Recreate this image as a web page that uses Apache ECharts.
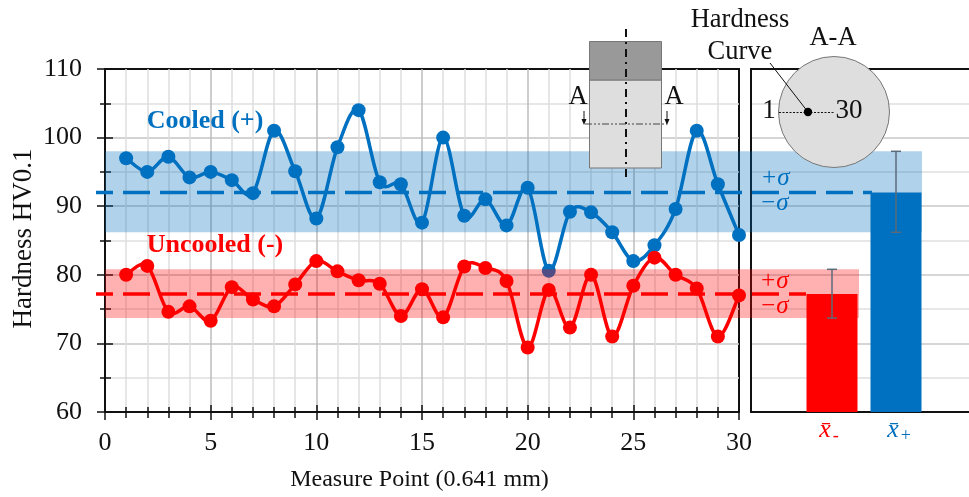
<!DOCTYPE html>
<html><head><meta charset="utf-8">
<style>html,body{margin:0;padding:0;background:#fff}#c{width:969px;height:497px}</style>
<script src="https://cdn.jsdelivr.net/npm/echarts@6/dist/echarts.min.js"></script>
</head><body><div id="c"></div>
<script>
const measurePoints=[1,2,3,4,5,6,7,8,9,10,11,12,13,14,15,16,17,18,19,20,21,22,23,24,25,26,27,28,29,30];
const cooled=[97,95,97.2,94.2,95,93.8,91.9,101,95.1,88.2,98.6,104,93.5,93.2,87.6,100,88.6,91,87.2,92.7,80.6,89.2,89.1,86.2,82,84.3,89.6,101,93.2,85.8];
const uncooled=[80,81.3,74.6,75.4,73.3,78.2,76.4,75.4,78.6,82,80.5,79.2,78.7,74,77.9,73.8,81.2,81,79.1,69.4,77.8,72.3,80,71,78.4,82.5,80,78,71,77];
const cooledMean=92, cooledHigh=98, cooledLow=86.2;
const uncooledMean=77.2, uncooledHigh=80.8, uncooledLow=73.7;
const BLUE='#0070C0', RED='#FF0000';
const FONT='"Liberation Serif","Times New Roman",serif';
const pair=a=>a.map((v,i)=>[measurePoints[i],v]);

const G={left:105,top:69,width:634,height:343,outerBoundsMode:'none'};
const R={left:751,top:69,width:218,height:343,outerBoundsMode:'none'};
const O={left:96,top:69,width:873,height:343,outerBoundsMode:'none'};
const unit=634/30;
const ovMin=-9/unit, ovMax=(969-105)/unit;
const pxToX=p=>(p-105)/unit;

const bandItem=(params,api)=>{
  const a=api.coord([api.value(0),api.value(3)]), b=api.coord([api.value(1),api.value(2)]);
  return {type:'rect',shape:{x:a[0],y:a[1],width:b[0]-a[0],height:b[1]-a[1]},style:{fill:api.value(4)===0?'rgba(0,112,192,0.31)':'rgba(255,0,0,0.31)'}};
};
const errItem=(params,api)=>{
  const t=api.coord([api.value(0),api.value(1)]), b=api.coord([api.value(0),api.value(2)]);
  const s={stroke:'#5b6b78',lineWidth:1.5,fill:null};
  return {type:'group',children:[
    {type:'line',shape:{x1:t[0],y1:t[1],x2:b[0],y2:b[1]},style:s},
    {type:'line',shape:{x1:t[0]-5,y1:t[1],x2:t[0]+5,y2:t[1]},style:s},
    {type:'line',shape:{x1:b[0]-5,y1:b[1],x2:b[0]+5,y2:b[1]},style:s}]};
};
// Excel-style smoothed line: each segment is a cubic through the data points, placed with the axis scale
const splineItem=(values,color)=>(params,api)=>{
  const i=params.dataIndex;
  if(i>=values.length-1) return null;
  const P=k=>{const j=Math.max(0,Math.min(values.length-1,k));return api.coord([measurePoints[j],values[j]]);};
  const p0=P(i-1),p1=P(i),p2=P(i+1),p3=P(i+2);
  const t=1/6;
  return {type:'bezierCurve',shape:{x1:p1[0],y1:p1[1],x2:p2[0],y2:p2[1],
    cpx1:p1[0]+(p2[0]-p0[0])*t,cpy1:p1[1]+(p2[1]-p0[1])*t,
    cpx2:p2[0]-(p3[0]-p1[0])*t,cpy2:p2[1]-(p3[1]-p1[1])*t},
    style:{stroke:color,lineWidth:3.5,fill:null}};
};
const txt=(x,y,text,o={})=>({type:'text',x,y,z:20,style:Object.assign({text,font:`${o.size||26.5}px ${FONT}`,fill:'#111',textAlign:'center',textVerticalAlign:'middle'},o.style||{})});
const ln=(x1,y1,x2,y2,o={})=>({type:'line',z:o.z||21,shape:{x1,y1,x2,y2},style:{stroke:o.c||'#111',lineWidth:o.w||1,lineDash:o.d||null}});
const sigma=(x,y,t,c)=>({type:'text',x,y,z:20,style:{text:t,font:`italic 25px ${FONT}`,fill:c,textAlign:'center',textVerticalAlign:'middle'}});

const option={
  animation:false,
  backgroundColor:'#fff',
  textStyle:{fontFamily:FONT},
  grid:[
    Object.assign({show:true,borderColor:'#111',borderWidth:2,backgroundColor:'transparent'},G),
    Object.assign({show:false},R),
    Object.assign({show:false},O),
    Object.assign({show:false},G)
  ],
  xAxis:[
    {gridIndex:0,type:'value',min:0,max:30,interval:5,
     axisLine:{show:true,onZero:false,lineStyle:{color:'#111',width:2}},
     axisTick:{show:true,length:8,lineStyle:{color:'#111',width:1.5}},
     minorTick:{show:true,splitNumber:5,length:6,lineStyle:{color:'#111',width:1.5}},
     splitLine:{show:true,showMaxLine:false,showMinLine:false,lineStyle:{color:'#bdbdbd',width:1.5}},
     minorSplitLine:{show:true,lineStyle:{color:'#dedede',width:1.5}},
     axisLabel:{color:'#111',fontSize:26,fontFamily:FONT,margin:18,showMaxLabel:true,showMinLabel:true},
     name:'Measure Point (0.641 mm)',nameLocation:'middle',nameGap:56,nameMoveOverlap:false,
     nameTextStyle:{color:'#111',fontSize:24,fontFamily:FONT,padding:[0,5,0,0]}},
    {gridIndex:1,type:'value',min:1+(751-832)/64,max:1+(969-832)/64,
     axisLine:{show:true,onZero:false,lineStyle:{color:'#111',width:2}},
     axisTick:{show:false},splitLine:{show:false},
     axisLabel:{show:true,customValues:[1,2],margin:3,hideOverlap:false,
       formatter:v=>v===1?'{a|x̄}{b|-}':'{c|x̄}{d|+}',
       rich:{a:{fontFamily:FONT,fontStyle:'italic',fontSize:26,color:RED,padding:[0,0,0,0]},
             b:{fontFamily:FONT,fontSize:18,color:RED,padding:[12,6,0,2]},
             c:{fontFamily:FONT,fontStyle:'italic',fontSize:26,color:BLUE,padding:[0,0,0,6]},
             d:{fontFamily:FONT,fontSize:18,color:BLUE,padding:[12,0,0,2]}}}},
    {gridIndex:2,type:'value',min:ovMin,max:ovMax,show:false},
    {gridIndex:3,type:'value',min:0,max:30,interval:5,
     axisLine:{show:false,onZero:false},axisLabel:{show:false},splitLine:{show:false},
     axisTick:{show:true,inside:true,length:7,lineStyle:{color:'#111',width:1.5}},
     minorTick:{show:true,splitNumber:5,length:5,lineStyle:{color:'#111',width:1.5}}},
    {gridIndex:1,type:'value',position:'top',min:1+(751-832)/64,max:1+(969-832)/64,
     axisLine:{show:true,onZero:false,lineStyle:{color:'#111',width:2}},
     axisTick:{show:false},axisLabel:{show:false},splitLine:{show:false}}
  ],
  yAxis:[
    {gridIndex:0,type:'value',min:60,max:110,interval:10,
     axisLine:{show:true,onZero:false,lineStyle:{color:'#111',width:2}},
     axisTick:{show:true,length:8,lineStyle:{color:'#111',width:1.5}},
     minorTick:{show:true,splitNumber:2,length:5,lineStyle:{color:'#111',width:1.5}},
     splitLine:{show:true,showMaxLine:false,showMinLine:false,lineStyle:{color:'#c4c4c4',width:1.5}},
     minorSplitLine:{show:true,lineStyle:{color:'#e0e0e0',width:1.5}},
     axisLabel:{color:'#111',fontSize:26,fontFamily:FONT,margin:23},
     name:'Hardness HV0.1',nameLocation:'middle',nameGap:68,nameMoveOverlap:false,
     nameTextStyle:{color:'#111',fontSize:27,fontFamily:FONT,padding:[0,0,0,4]}},
    {gridIndex:1,type:'value',min:60,max:110,interval:10,
     axisLine:{show:true,onZero:false,lineStyle:{color:'#111',width:2}},
     axisTick:{show:false},axisLabel:{show:false},
     splitLine:{show:true,showMaxLine:false,showMinLine:false,lineStyle:{color:'#c8c8c8',width:1.5}},
     minorTick:{show:false,splitNumber:2},
     minorSplitLine:{show:true,lineStyle:{color:'#e0e0e0',width:1.5}}},
    {gridIndex:2,type:'value',min:60,max:110,show:false},
    {gridIndex:3,type:'value',min:60,max:110,interval:10,
     axisLine:{show:false,onZero:false},axisLabel:{show:false},splitLine:{show:false},
     axisTick:{show:true,inside:true,length:8,lineStyle:{color:'#111',width:1.5}},
     minorTick:{show:true,splitNumber:2,length:6,lineStyle:{color:'#111',width:1.5}}}
  ],
  series:[
    {type:'custom',name:'cooledBand',xAxisIndex:2,yAxisIndex:2,z:3,renderItem:bandItem,silent:true,
     encode:{x:[0,1],y:[2,3]},
     data:[[0,pxToX(922),cooledLow,cooledHigh,0]]},
    {type:'line',name:'cooledMean',xAxisIndex:2,yAxisIndex:2,z:4,symbol:'none',
     lineStyle:{color:BLUE,width:3.5,type:[27,10],dashOffset:10},
     data:[[ovMin,cooledMean],[pxToX(872),cooledMean]]},
    {type:'custom',name:'cooledCurve',xAxisIndex:0,yAxisIndex:0,z:5,renderItem:splineItem(cooled,BLUE),silent:true,clip:false,
     encode:{x:0,y:1},data:pair(cooled)},
    {type:'line',name:'Cooled (+)',xAxisIndex:0,yAxisIndex:0,z:5,
     symbol:'circle',symbolSize:14,clip:false,
     lineStyle:{width:0,opacity:0},itemStyle:{color:BLUE},data:pair(cooled)},
    {type:'custom',name:'uncooledBand',xAxisIndex:2,yAxisIndex:2,z:6,renderItem:bandItem,silent:true,
     encode:{x:[0,1],y:[2,3]},
     data:[[0,pxToX(859),uncooledLow,uncooledHigh,1]]},
    {type:'bar',name:'means',xAxisIndex:1,yAxisIndex:1,z:7,barWidth:51,
     data:[{value:[1,uncooledMean],itemStyle:{color:RED}},{value:[2,cooledMean],itemStyle:{color:BLUE}}]},
    {type:'custom',name:'err',xAxisIndex:1,yAxisIndex:1,z:9,renderItem:errItem,silent:true,
     encode:{x:0,y:[1,2]},
     data:[[1,uncooledHigh,uncooledLow],[2,cooledHigh,cooledLow]]},
    {type:'line',name:'uncooledMean',xAxisIndex:2,yAxisIndex:2,z:8,symbol:'none',
     lineStyle:{color:RED,width:3.5,type:[27,10],dashOffset:10},
     data:[[ovMin,uncooledMean],[pxToX(806),uncooledMean]]},
    {type:'custom',name:'uncooledCurve',xAxisIndex:0,yAxisIndex:0,z:10,renderItem:splineItem(uncooled,RED),silent:true,clip:false,
     encode:{x:0,y:1},data:pair(uncooled)},
    {type:'line',name:'Uncooled (-)',xAxisIndex:0,yAxisIndex:0,z:10,
     symbol:'circle',symbolSize:14,clip:false,
     lineStyle:{width:0,opacity:0},itemStyle:{color:RED},data:pair(uncooled)}
  ],
  graphic:[
    txt(205,121,'Cooled (+)',{style:{font:`bold 26px ${FONT}`,fill:BLUE}}),
    txt(215,245,'Uncooled (-)',{style:{font:`bold 26px ${FONT}`,fill:RED}}),
    sigma(775,178,'+σ',BLUE),sigma(774,203,'−σ',BLUE),
    sigma(774,281,'+σ',RED),sigma(774,306,'−σ',RED),
    {type:'rect',z:15,shape:{x:589.5,y:80,width:72,height:88},style:{fill:'#dedede',stroke:'#777',lineWidth:1}},
    {type:'rect',z:15,shape:{x:589.5,y:41.5,width:72,height:38.5},style:{fill:'#999999',stroke:'#777',lineWidth:1}},
    ln(626,29,626,182,{w:2,d:[8,5,2,5]}),
    ln(585,124,667,124,{c:'#444',w:1,d:[7,2,2,2,2,2]}),
    ln(584,111,584,122,{w:1}),ln(667,111,667,122,{w:1}),
    {type:'polygon',z:21,shape:{points:[[581.5,119],[586.5,119],[584,125]]},style:{fill:'#111'}},
    {type:'polygon',z:21,shape:{points:[[664.5,119],[669.5,119],[667,125]]},style:{fill:'#111'}},
    txt(578,97,'A'),txt(674,97,'A'),
    {type:'circle',z:15,shape:{cx:834,cy:112,r:55.5},style:{fill:'#dedede',stroke:'#777',lineWidth:1}},
    ln(779,112.5,835,112.5,{w:1,d:[2,1.5]}),
    ln(770,63,808,112,{w:1}),
    {type:'circle',z:22,shape:{cx:808,cy:112,r:4.2},style:{fill:'#000'}},
    txt(769,111,'1',{size:27}),txt(849,111,'30',{size:27}),
    txt(740,20,'Hardness'),txt(740,52,'Curve'),txt(833,38,'A-A')
  ]
};
const chart=echarts.init(document.getElementById('c'),null,{renderer:'canvas'});
chart.setOption(option);
</script></body></html>
